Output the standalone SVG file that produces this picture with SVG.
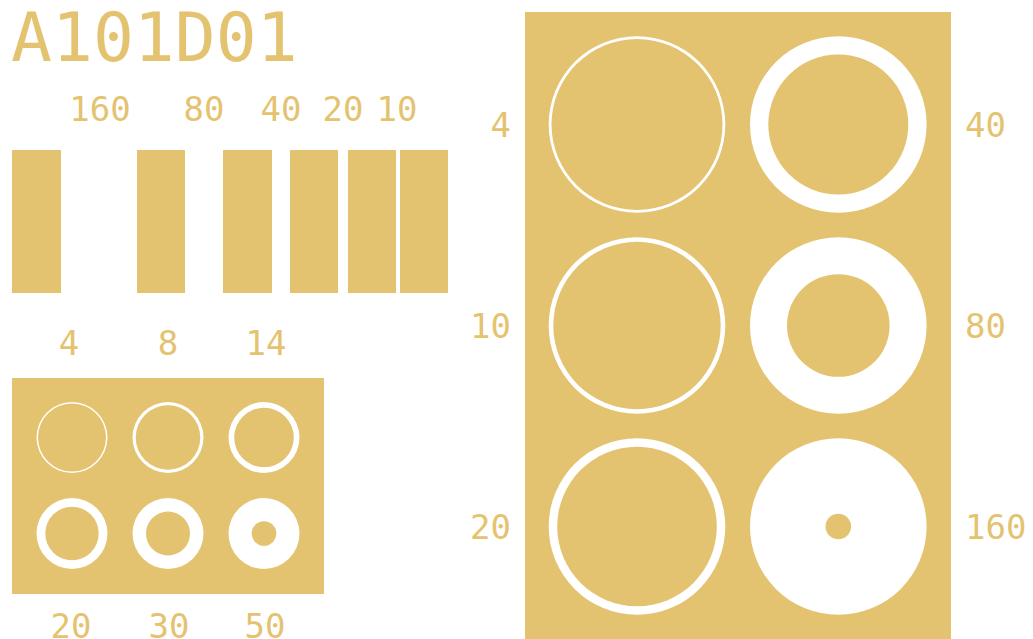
<svg xmlns="http://www.w3.org/2000/svg" width="1033" height="639" viewBox="0 0 1033 639">
<style>
.g{fill:#E4C370}
.w{fill:#FFFFFF}
text{font-family:"DejaVu Sans Mono","Liberation Mono",monospace;fill:#E4C370}
.t{font-size:68px}
.l{font-size:34px}
.m{text-anchor:middle}
.e{text-anchor:end}
</style>
<rect x="0" y="0" width="1033" height="639" fill="#FFFFFF"/>
<text class="t" x="11" y="61">A101D01</text>
<g id="bars">
<text class="l m" x="100" y="121">160</text>
<text class="l m" x="204" y="121">80</text>
<text class="l m" x="281" y="121">40</text>
<text class="l m" x="343" y="121">20</text>
<text class="l m" x="397" y="121">10</text>
<rect class="g" x="12" y="150" width="49" height="143"/>
<rect class="g" x="137" y="150" width="48" height="143"/>
<rect class="g" x="223" y="150" width="49" height="143"/>
<rect class="g" x="290" y="150" width="48" height="143"/>
<rect class="g" x="348" y="150" width="48" height="143"/>
<rect class="g" x="400" y="150" width="48" height="143"/>
</g>
<g id="small-rings">
<text class="l m" x="69" y="355">4</text>
<text class="l m" x="168" y="355">8</text>
<text class="l m" x="266" y="355">14</text>
<rect class="g" x="12" y="378" width="312" height="216"/>
<circle class="w" cx="72" cy="437.5" r="35.5"/><circle class="g" cx="72" cy="437.5" r="34"/>
<circle class="w" cx="168" cy="437.5" r="35.5"/><circle class="g" cx="168" cy="437.5" r="32.3"/>
<circle class="w" cx="264" cy="437.5" r="35.5"/><circle class="g" cx="264" cy="437.5" r="29.8"/>
<circle class="w" cx="72" cy="533.5" r="35.5"/><circle class="g" cx="72" cy="533.5" r="26.7"/>
<circle class="w" cx="168" cy="533.5" r="35.5"/><circle class="g" cx="168" cy="533.5" r="22"/>
<circle class="w" cx="264" cy="533.5" r="35.5"/><circle class="g" cx="264" cy="533.5" r="12.3"/>
<text class="l m" x="71" y="638">20</text>
<text class="l m" x="169" y="638">30</text>
<text class="l m" x="265" y="638">50</text>
</g>
<g id="big-rings">
<rect class="g" x="525" y="12" width="426" height="627"/>
<circle class="w" cx="637" cy="124.5" r="88.3"/><circle class="g" cx="637" cy="124.5" r="85.5"/>
<circle class="w" cx="838.3" cy="124.5" r="88.3"/><circle class="g" cx="838.3" cy="124.5" r="70"/>
<circle class="w" cx="637" cy="325.5" r="88.3"/><circle class="g" cx="637" cy="325.5" r="83.7"/>
<circle class="w" cx="838.3" cy="325.5" r="88.3"/><circle class="g" cx="838.3" cy="325.5" r="51.3"/>
<circle class="w" cx="637" cy="526.5" r="88.3"/><circle class="g" cx="637" cy="526.5" r="79.8"/>
<circle class="w" cx="838.3" cy="526.5" r="88.3"/><circle class="g" cx="838.3" cy="526.5" r="12.8"/>
<text class="l e" x="511" y="137">4</text>
<text class="l e" x="511" y="338">10</text>
<text class="l e" x="511" y="539">20</text>
<text class="l" x="965" y="137">40</text>
<text class="l" x="965" y="338">80</text>
<text class="l" x="965" y="539">160</text>
</g>
</svg>
